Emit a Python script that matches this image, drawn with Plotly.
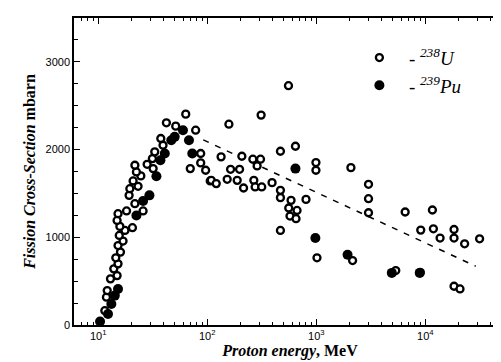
import plotly.graph_objects as go

# 238U data (open circles): proton energy (MeV), fission cross-section (mbarn)
u_energy = [11.5, 11.9, 12.1, 12.96, 13.9, 14.9, 15.2, 14.5, 16.0, 15.2, 16.9, 15.6,
            17.6, 15.8, 20.6, 14.9, 15.2, 18.2, 25.8, 21.7, 19.2, 19.5, 23.2, 20.9,
            24.6, 22.4, 21.7, 31.9, 28.1, 31.4, 33.0, 39.3, 37.5, 42.2, 51.4, 63.5,
            78.3, 87.1, 87.1, 69.9, 96.7, 106.5, 108.8, 120.9, 134, 158, 207.7, 262,
            308, 312, 163.7, 197.9, 152.4, 188.2, 215.3, 267.5, 275, 316, 286.7, 393,
            469, 469, 469, 469, 644, 556, 587, 805, 559, 666, 574, 652, 993, 993,
            2078, 1015, 2153, 3013, 3013, 3013, 6534, 11614, 9080, 11860, 13660,
            18340, 18340, 22940, 31470, 5358, 8980, 18340, 20800]
u_sigma = [163, 317, 392, 526, 640, 563, 697, 766, 831, 906, 957, 1021,
           1078, 1124, 1109, 1192, 1269, 1300, 1300, 1383, 1478, 1554, 1581, 1642,
           1700, 1745, 1821, 1783, 1832, 1897, 1974, 2049, 2126, 2305, 2267, 2404,
           2221, 1955, 1848, 1783, 1764, 1642, 1649, 1612, 1917, 2289, 1924, 1890,
           1890, 2393, 1775, 1775, 1661, 1649, 1562, 1649, 1574, 1574, 1814, 1623,
           1981, 1535, 1452, 1078, 2038, 2728, 1421, 1432, 1334, 1306, 1242, 1212, 1852, 1764,
           1794, 766, 735, 1604, 1440, 1280, 1288, 1311, 1082, 1097, 991,
           1089, 991, 926, 983, 621, 600, 442, 411]

# 239Pu data (filled circles)
pu_energy = [10.4, 12.3, 13.2, 14.2, 15.2, 22.4, 25.8, 29.5, 34.2, 37.2, 40.8, 46.8,
             50.3, 59.9, 68.0, 72.9, 644, 981, 1936, 4928, 8888]
pu_sigma = [40, 126, 240, 335, 411, 1249, 1414, 1478, 1695, 1878, 1955, 2107,
            2145, 2221, 2107, 1955, 1783, 991, 800, 594, 594]

# dashed trend line (end points)
trend_energy = [92, 29000]
trend_sigma = [2110, 670]

x_tick_vals = [10, 100, 1000, 10000]
x_tick_text = ["10<sup>1</sup>", "10<sup>2</sup>", "10<sup>3</sup>", "10<sup>4</sup>"]
y_tick_vals = [0, 1000, 2000, 3000]
y_tick_text = ["0", "1000", "2000", "3000"]

x_minor = [m * 10 ** k for k in range(0, 5) for m in range(2, 10)]
x_minor = [v for v in x_minor if 6 <= v <= 55000]

fig = go.Figure()

fig.add_trace(go.Scatter(
    x=trend_energy, y=trend_sigma, mode="lines",
    line=dict(color="black", width=1.5, dash="6px,7px"),
    showlegend=False, hoverinfo="skip"))

fig.add_trace(go.Scatter(
    x=u_energy, y=u_sigma, mode="markers",
    marker=dict(symbol="circle", size=7, color="white",
                line=dict(color="black", width=2.3)),
    name="\u00a0\u00a0- <sup><i>238</i></sup><i>U</i>"))

fig.add_trace(go.Scatter(
    x=pu_energy, y=pu_sigma, mode="markers",
    marker=dict(symbol="circle", size=10, color="black",
                line=dict(color="black", width=0)),
    name="\u00a0\u00a0- <sup><i>239</i></sup><i>Pu</i>"))

axis_common = dict(showline=True, linecolor="black", linewidth=1.5, mirror="ticks",
                   ticks="inside", tickcolor="black", tickwidth=1, showgrid=False,
                   zeroline=False,
                   tickfont=dict(family="Liberation Sans, Arial", size=11, color="black"))

fig.update_xaxes(type="log", range=[0.778, 4.74], tickmode="array",
                 tickvals=x_tick_vals, ticktext=x_tick_text, ticklen=6,
                 minor=dict(tickmode="array", tickvals=x_minor, ticks="inside",
                            ticklen=3, tickcolor="black", tickwidth=1),
                 title=dict(text="<b><i>Proton energy</i>, MeV</b>",
                            font=dict(family="Liberation Serif, Times New Roman",
                                      size=16, color="black"),
                            standoff=4),
                 **axis_common)

fig.update_yaxes(range=[0, 3500], tickmode="array", tickvals=y_tick_vals,
                 ticktext=y_tick_text, ticklen=6,
                 minor=dict(dtick=250, ticks="inside", ticklen=4,
                            tickcolor="black", tickwidth=1),
                 title=dict(text="<b><i>Fission Cross-Section</i> mbarn</b>",
                            font=dict(family="Liberation Serif, Times New Roman",
                                      size=16, color="black"),
                            standoff=6),
                 **axis_common)

fig.update_layout(
    width=501, height=362,
    margin=dict(l=66, r=1, t=10, b=45),
    paper_bgcolor="white", plot_bgcolor="white",
    legend=dict(x=0.6606, y=0.9325, xanchor="left", yanchor="top",
                bgcolor="rgba(0,0,0,0)",
                font=dict(family="Liberation Serif, Times New Roman", size=19,
                          color="black"),
                tracegroupgap=0),
)

fig.write_html("out.html")
